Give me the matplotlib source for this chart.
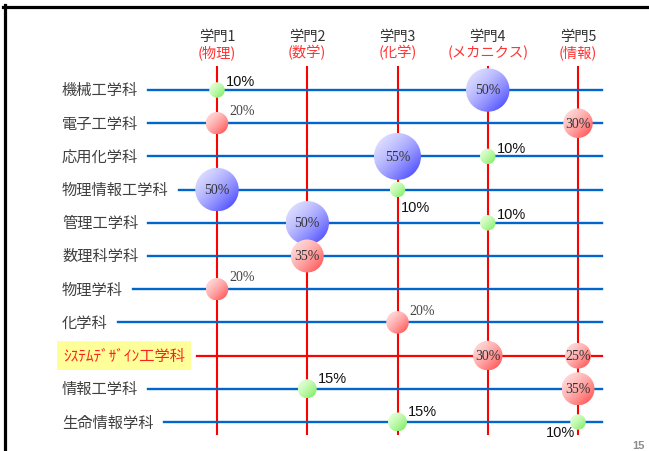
import numpy as np
import matplotlib
matplotlib.use('Agg')
import matplotlib.pyplot as plt
from matplotlib.patches import Ellipse
from matplotlib.lines import Line2D

plt.rcParams['font.family'] = ['Noto Sans CJK JP', 'DejaVu Sans']

# data
departments = ['機械工学科', '電子工学科', '応用化学科', '物理情報工学科', '管理工学科',
               '数理科学科', '物理学科', '化学科', 'ｼｽﾃﾑﾃﾞｻﾞｲﾝ工学科', '情報工学科', '生命情報学科']
fields = ['学門1', '学門2', '学門3', '学門4', '学門5']
field_names = ['(物理)', '(数学)', '(化学)', '(メカニクス)', '(情報)']
# percent of each department going to each field (0 = none)
shares = np.array([
    [10, 0, 0, 50, 0],
    [20, 0, 0, 0, 30],
    [0, 0, 55, 10, 0],
    [50, 0, 10, 0, 0],
    [0, 50, 0, 10, 0],
    [0, 35, 0, 0, 0],
    [20, 0, 0, 0, 0],
    [0, 0, 20, 0, 0],
    [0, 0, 0, 30, 25],
    [0, 15, 0, 0, 35],
    [0, 0, 15, 0, 10],
])
highlight_row = 8  # システムデザイン工学科

# labels that do not sit at the upper right of their small bubble
label_side = {(3, 2): 'lower right', (10, 4): 'lower left'}

# layout (pixels of a 649x452 slide)
W, H = 649, 452
col_px0, col_step = 217, 90.25
row_px0, row_step = 91, 33.2


def px2x(px):
    return (px - col_px0) / col_step


def px2y(py):
    return (py - row_px0) / row_step


fig = plt.figure(figsize=(W / 100, H / 100), dpi=100)
ax = fig.add_axes([0, 0, 1, 1])
ax.axis('off')
xlim = (px2x(0), px2x(W))
ylim = (px2y(H), px2y(0))
ax.set_xlim(xlim)
ax.set_ylim(ylim)

# slide frame
fig.add_artist(Line2D([3 / W, 1], [1 - 7.5 / H, 1 - 7.5 / H], color='black', lw=2.3, transform=fig.transFigure))
fig.add_artist(Line2D([4.5 / W, 4.5 / W], [0, 1 - 6 / H], color='black', lw=2.3, transform=fig.transFigure))
fig.text(638 / W, 1 - 446 / H, '15', ha='center', va='center', fontsize=8, color='#8c8c8c',
         fontweight='bold', family=['Liberation Sans', 'DejaVu Sans'])

# headers + vertical red lines
for j in range(len(fields)):
    ax.text(j, px2y(37), fields[j], ha='center', va='center', fontsize=10.3, color='#333333')
    ax.text(j, px2y(53), field_names[j], ha='center', va='center', fontsize=10.3, color='#ff3333')
    ax.plot([j, j], [px2y(68), px2y(435)], color='#ff0000', lw=1.5, zorder=1)

# department labels
label_objs = []
for i, name in enumerate(departments):
    if i == highlight_row:
        t = ax.text(px2x(63), i, name, ha='left', va='center', fontsize=11, color='#ff2020',
                    bbox=dict(boxstyle='square,pad=0.4', fc='#ffff99', ec='none'))
    else:
        t = ax.text(px2x(62), i, name, ha='left', va='center', fontsize=11, color='#404040')
    label_objs.append(t)

fig.canvas.draw()
inv = ax.transData.inverted()
for i, t in enumerate(label_objs):
    if i == highlight_row:
        bb = t.get_bbox_patch().get_window_extent()
        x0 = inv.transform((bb.x1 + 6, 0))[0]
        ax.plot([x0, px2x(602)], [i, i], color='#ff0000', lw=1.6, zorder=2)
    else:
        bb = t.get_window_extent()
        x0 = inv.transform((bb.x1 + 10, 0))[0]
        ax.plot([x0, px2x(602)], [i, i], color='#0066cc', lw=1.7, zorder=2)

# bubble colours: light (top-left) -> dark (bottom-right)
blue = (np.array([225, 225, 255]), np.array([50, 50, 255]))
red = (np.array([255, 220, 220]), np.array([255, 60, 60]))
green = (np.array([228, 255, 215]), np.array([110, 235, 80]))

n = 64
gx, gy = np.meshgrid(np.linspace(0, 1, n), np.linspace(0, 1, n))
tgrad = np.clip((gx + gy) / 2, 0, 1) ** 1.6

narrow = ['Liberation Serif', 'DejaVu Serif']
plain = ['Liberation Sans', 'DejaVu Sans']

for i in range(shares.shape[0]):
    for j in range(shares.shape[1]):
        v = shares[i, j]
        if v == 0:
            continue
        d = 0.7 * v + 8.5  # diameter in px
        w, h = d / col_step, d / row_step
        if v >= 50:
            light, dark = blue
        elif v >= 20:
            light, dark = red
        else:
            light, dark = green
        img = (light[None, None, :] * (1 - tgrad[..., None]) + dark[None, None, :] * tgrad[..., None]) / 255
        e = Ellipse((j, i), w, h, facecolor='none', edgecolor='none', zorder=3)
        ax.add_patch(e)
        ax.imshow(img, extent=(j - w / 2, j + w / 2, i + h / 2, i - h / 2), origin='upper',
                  aspect='auto', interpolation='bilinear', clip_path=e, zorder=3)

        txt = '%d%%' % v
        if v >= 25:
            ax.text(j, i, txt, ha='center', va='center', fontsize=10, color='#333333',
                    family=narrow, zorder=4)
            continue
        side = label_side.get((i, j), 'upper right')
        if v >= 20:
            kw = dict(fontsize=10, color='#444444', family=narrow)
        else:
            kw = dict(fontsize=10.5, color='#111111', family=plain)
        if side == 'upper right':
            off, ha = ((d / 2 + 1) * 0.72, (d / 2 + 1) * 0.72), 'left'
        elif side == 'lower right':
            off, ha = (3 * 0.72, -17 * 0.72), 'left'
        else:
            off, ha = (-3 * 0.72, -10 * 0.72), 'right'
        ax.annotate(txt, (j, i), xytext=off, textcoords='offset points', ha=ha, va='center',
                    zorder=4, **kw)

ax.set_xlim(xlim)
ax.set_ylim(ylim)
fig.savefig('out.png', dpi=100)
